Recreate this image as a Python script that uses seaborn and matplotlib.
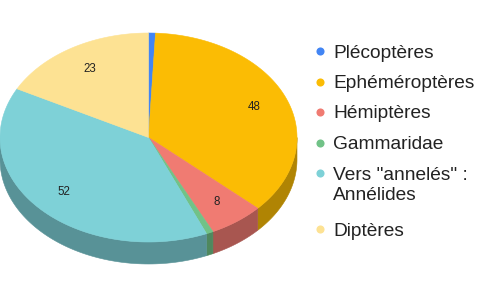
import numpy as np
import matplotlib
matplotlib.use("Agg")
import matplotlib.pyplot as plt
import seaborn as sns
from matplotlib.colors import to_rgb

sns.set_theme(style="white")
plt.rcParams['font.family'] = ['Liberation Sans', 'DejaVu Sans']

categories = ["Plécoptères", "Ephéméroptères", "Hémiptères", "Gammaridae",
              "Vers \"annelés\" :\nAnnélides", "Diptères"]
values = [1, 48, 8, 1, 52, 23]
colors = sns.color_palette(["#4285F4", "#FBBC04", "#F07B72", "#71C287", "#7ED1D7", "#FDE293"])

W, H = 480, 297
fig = plt.figure(figsize=(W / 100, H / 100), dpi=100)
ax = fig.add_axes([0, 0, 1, 1])
ax.set_xlim(0, W)
ax.set_ylim(H, 0)
ax.axis("off")

cx, cy, rx, ry, depth = 148.5, 137.5, 148.5, 104.5, 22

def pt(t, dy=0.0):
    return cx + rx * np.sin(t), cy - ry * np.cos(t) + dy

total = sum(values)
bounds = np.concatenate([[0], np.cumsum(values)]) / total * 2 * np.pi

# side walls
for i, c in enumerate(colors):
    t0, t1 = bounds[i], bounds[i + 1]
    a0, a1 = max(t0, np.pi / 2), min(t1, 3 * np.pi / 2)
    if a1 <= a0:
        continue
    ts = np.linspace(a0, a1, 80)
    xs, ys = pt(ts)
    xb, yb = pt(ts[::-1], depth)
    dark = tuple(v * 0.7 for v in to_rgb(c))
    ax.fill(np.concatenate([xs, xb]), np.concatenate([ys, yb]),
            color=dark, lw=0.4, ec=dark)

# top faces
for i, c in enumerate(colors):
    t0, t1 = bounds[i], bounds[i + 1]
    ts = np.linspace(t0, t1, 200)
    xs, ys = pt(ts)
    ax.fill(np.concatenate([[cx], xs]), np.concatenate([[cy], ys]),
            color=c, lw=0.4, ec=c)

# value labels
for i, v in enumerate(values):
    if v / total < 0.03:
        continue
    tm = (bounds[i] + bounds[i + 1]) / 2
    x = cx + 0.77 * rx * np.sin(tm)
    y = cy - 0.77 * ry * np.cos(tm)
    ax.text(x, y, str(v), ha="center", va="center", fontsize=8.3, color="#222222")

# legend
y = 51
for lab, c in zip(categories, colors):
    ax.scatter([320], [y], s=34, color=c, lw=0)
    lines = lab.split("\n")
    for k, line in enumerate(lines):
        ax.text(333, y + k * 20, line, ha="left", va="center_baseline",
                fontsize=13.8, color="#222222")
    y += 30.5 + (len(lines) - 1) * 25.5

fig.savefig("out.png", dpi=100)
